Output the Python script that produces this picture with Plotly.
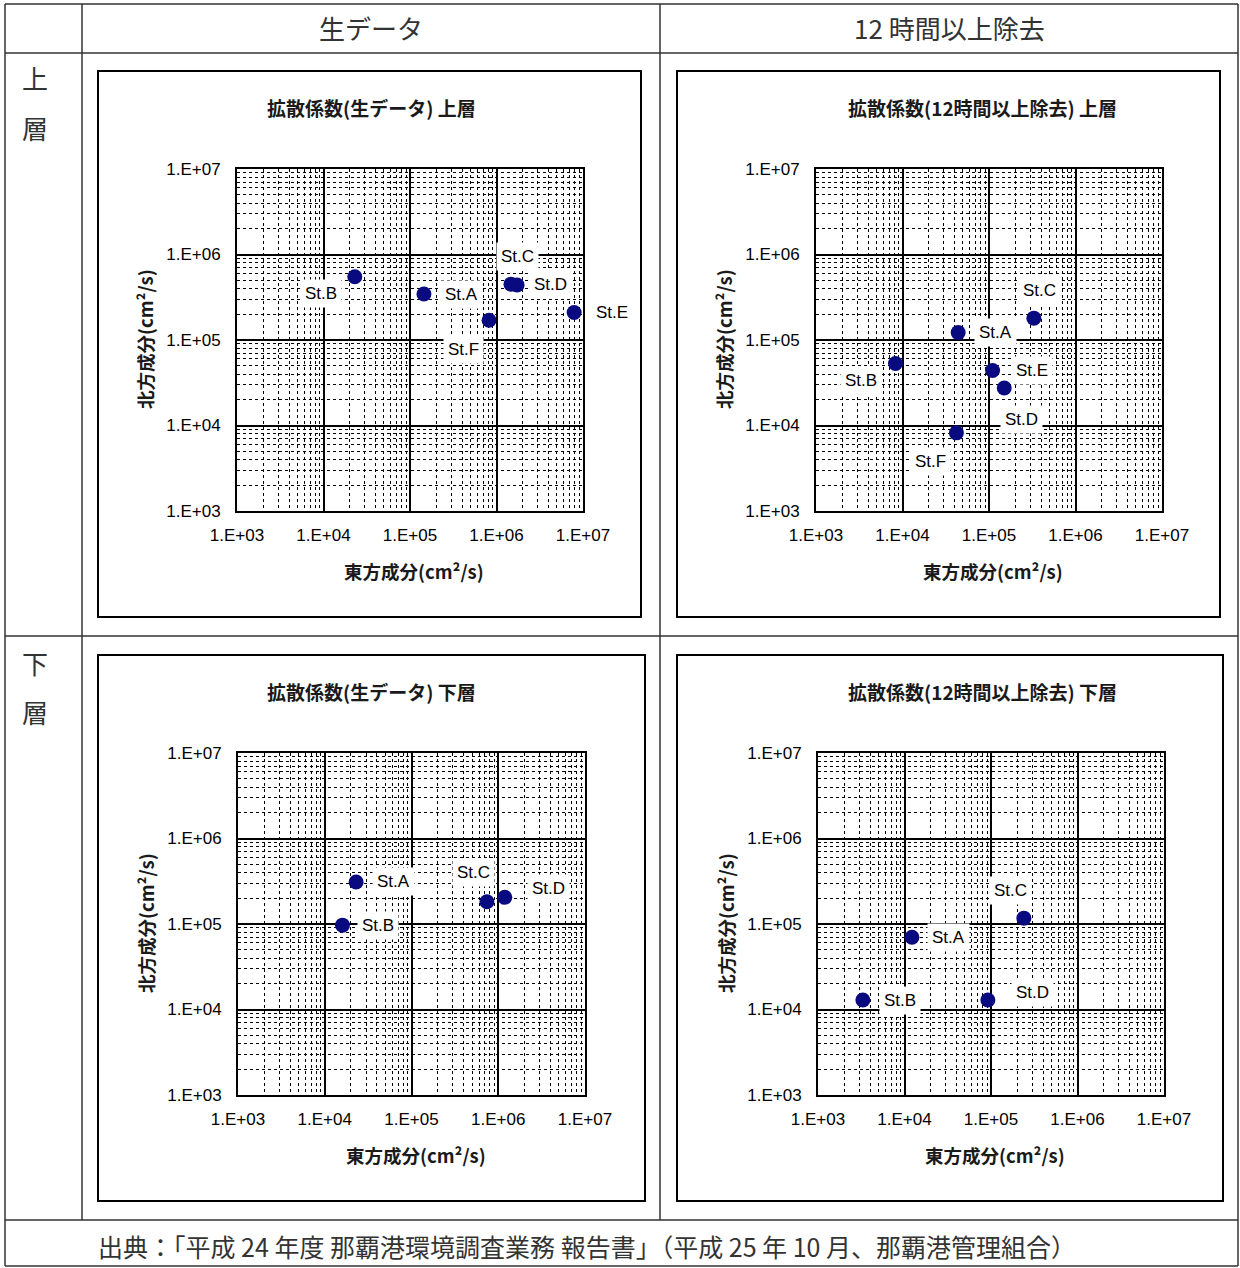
import numpy as np
import plotly.graph_objects as go

W, H = 1240, 1268

# ---- data (cm2/s) ----
stations_ul_raw = ["St.A", "St.B", "St.C", "St.D", "St.E", "St.F"]
east_ul_raw = [1.45e5, 2.3e4, 1.47e6, 1.73e6, 7.9e6, 8.2e5]
north_ul_raw = [3.45e5, 5.5e5, 4.5e5, 4.4e5, 2.1e5, 1.7e5]

stations_ul_cut = ["St.A", "St.B", "St.C", "St.D", "St.E", "St.F"]
east_ul_cut = [4.4e4, 8.3e3, 3.3e5, 1.5e5, 1.1e5, 4.2e4]
north_ul_cut = [1.22e5, 5.3e4, 1.8e5, 2.75e4, 4.4e4, 8.2e3]

stations_ll_raw = ["St.A", "St.B", "St.C", "St.D"]
east_ll_raw = [2.3e4, 1.6e4, 7.4e5, 1.19e6]
north_ll_raw = [3.1e5, 9.7e4, 1.82e5, 2.05e5]

stations_ll_cut = ["St.A", "St.B", "St.C", "St.D"]
east_ll_cut = [1.22e4, 3.3e3, 2.4e5, 9.2e4]
north_ll_cut = [7.0e4, 1.29e4, 1.17e5, 1.29e4]

tick_vals = [1e3, 1e4, 1e5, 1e6, 1e7]
tick_text = ["1.E+03", "1.E+04", "1.E+05", "1.E+06", "1.E+07"]

titles = ["拡散係数(生データ) 上層", "拡散係数(12時間以上除去) 上層",
          "拡散係数(生データ) 下層", "拡散係数(12時間以上除去) 下層"]
x_title = "東方成分(cm²/s)"
y_title = "北方成分(cm²/s)"


def px_x(p):
    return p / W


def px_y(p):
    return 1 - p / H


# panel layout in pixels: plot area (x0, x1, y0, y1), frame box, title centre, label offsets
panels = [
    dict(st=stations_ul_raw, ex=east_ul_raw, no=north_ul_raw,
         area=(237, 583, 169, 511), box=(98, 641, 71, 617), tx=371,
         offs={"St.A": (38, 0), "St.B": (-34, -17), "St.C": (7, 28),
               "St.D": (33, 0), "St.E": (38, 0), "St.F": (-26, -29)}),
    dict(st=stations_ul_cut, ex=east_ul_cut, no=north_ul_cut,
         area=(816, 1162, 169, 511), box=(677, 1220, 71, 617), tx=982,
         offs={"St.A": (37, 0), "St.B": (-35, -17), "St.C": (6, 28),
               "St.D": (17, -32), "St.E": (39, 0), "St.F": (-26, -29)}),
    dict(st=stations_ll_raw, ex=east_ll_raw, no=north_ll_raw,
         area=(238, 585, 753, 1095), box=(98, 645, 655, 1201), tx=371,
         offs={"St.A": (37, 0), "St.B": (36, 0), "St.C": (-13, 29),
               "St.D": (44, 9)}),
    dict(st=stations_ll_cut, ex=east_ll_cut, no=north_ll_cut,
         area=(818, 1164, 753, 1095), box=(677, 1223, 655, 1201), tx=982,
         offs={"St.A": (37, 0), "St.B": (37, 0), "St.C": (-13, 28),
               "St.D": (45, 8)}),
]

minor_vals = [m * 10 ** d for d in range(3, 7) for m in range(2, 10)]
tick_font = dict(family="Liberation Sans, Arial", size=17, color="black")
jp = "Noto Sans CJK JP"


def note(txt, x, y, font, **kw):
    # paper-referenced text centred on a pixel position
    d = dict(x=px_x(x), y=px_y(y), xref="paper", yref="paper", text=txt,
             showarrow=False, xanchor="center", yanchor="middle", font=font)
    d.update(kw)
    return d


fig = go.Figure()
layout = dict(width=W, height=H, margin=dict(l=0, r=0, t=0, b=0, autoexpand=False),
              paper_bgcolor="white", plot_bgcolor="white", showlegend=False)
annotations = []
shapes = []

for i, p in enumerate(panels):
    n = "" if i == 0 else str(i + 1)
    x0, x1, y0, y1 = p["area"]
    ax = dict(type="log", range=[3, 7], tickmode="array", tickvals=tick_vals,
              ticktext=tick_text, tickfont=tick_font, ticks="", automargin=False,
              showgrid=True, gridcolor="black", gridwidth=1.8, zeroline=False,
              showline=True, mirror=True, linecolor="black", linewidth=1.8,
              minor=dict(tickmode="array", tickvals=minor_vals, showgrid=True,
                         gridcolor="black", griddash="dot", gridwidth=1.4),
              fixedrange=True)
    layout["xaxis" + n] = dict(ax, domain=[px_x(x0), px_x(x1)],
                               anchor="y" + n, ticklabelstandoff=8)
    layout["yaxis" + n] = dict(ax, domain=[px_y(y1), px_y(y0)],
                               anchor="x" + n, ticklabelstandoff=11)

    fig.add_trace(go.Scatter(
        x=p["ex"], y=p["no"], mode="markers", xaxis="x" + n, yaxis="y" + n,
        marker=dict(size=15, color="#0a0a80"), hoverinfo="skip"))

    for s, xv, yv in zip(p["st"], p["ex"], p["no"]):
        dx, dy = p["offs"][s]
        annotations.append(dict(
            x=np.log10(xv), y=np.log10(yv), xref="x" + n, yref="y" + n,
            text=s, showarrow=False, xshift=dx, yshift=dy,
            xanchor="center", yanchor="middle",
            bgcolor="white", borderpad=4,
            font=dict(family="Liberation Sans, Arial", size=17, color="black")))

    bx0, bx1, by0, by1 = p["box"]
    shapes.append(dict(type="rect", xref="paper", yref="paper",
                       x0=px_x(bx0), x1=px_x(bx1), y0=px_y(by1), y1=px_y(by0),
                       line=dict(color="black", width=2)))

    annotations.append(note("<b>" + titles[i] + "</b>", p["tx"], by0 + 36,
                            dict(family=jp, size=19, color="#1a1a1a")))
    annotations.append(note("<b>" + x_title + "</b>", (x0 + x1) / 2 + 4, y1 + 60,
                            dict(family=jp, size=18.5, color="#1a1a1a")))
    annotations.append(note("<b>" + y_title + "</b>", x0 - 92, (y0 + y1) / 2 - 1,
                            dict(family=jp, size=18.5, color="#1a1a1a"), textangle=-90))

# table grid
line = dict(color="#333333", width=1.5)
for yy in [4, 53, 636, 1220, 1266]:
    shapes.append(dict(type="line", xref="paper", yref="paper",
                       x0=px_x(5), x1=px_x(1238), y0=px_y(yy), y1=px_y(yy), line=line))
for xx, ybot in [(5, 1266), (1238, 1266), (82, 1220), (660, 1220)]:
    shapes.append(dict(type="line", xref="paper", yref="paper",
                       x0=px_x(xx), x1=px_x(xx), y0=px_y(4), y1=px_y(ybot), line=line))

cell_font = dict(family=jp, size=26, color="#333333")
for txt, cx, cy in [("生データ", 371, 28), ("12 時間以上除去", 949, 28),
                    ("上", 35, 78), ("層", 35, 127), ("下", 35, 662), ("層", 35, 711)]:
    annotations.append(note(txt, cx, cy, cell_font))

annotations.append(note("出典：「平成 24 年度 那覇港環境調査業務 報告書」（平成 25 年 10 月、那覇港管理組合）",
                        96, 1246, dict(family=jp, size=25, color="#333333"),
                        xanchor="left"))

layout["annotations"] = annotations
layout["shapes"] = shapes
fig.update_layout(**layout)

fig.write_html("out.html", config={"displayModeBar": False},
               post_script="document.body.style.margin='0';")
